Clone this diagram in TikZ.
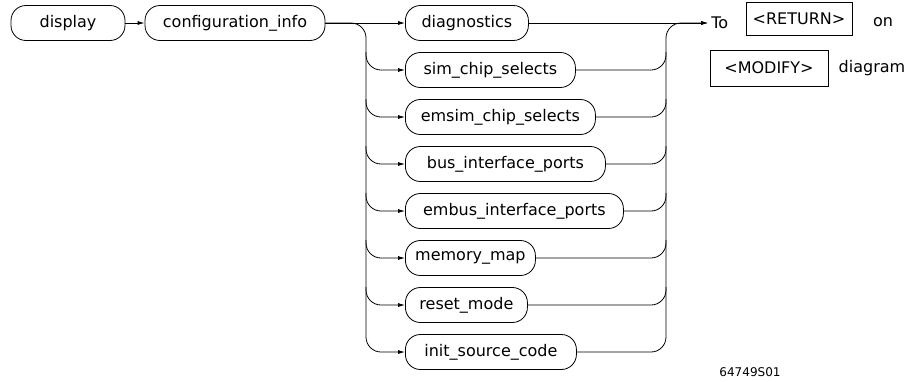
\documentclass[tikz,border=0pt]{standalone}
\usepackage{fontspec}
\setmainfont{DejaVu Sans}
\usepackage{tikz}
\usetikzlibrary{arrows.meta,positioning,calc}

\tikzset{
  kw/.style={draw, rounded corners=15pt, minimum height=35pt, inner sep=0pt},
  keybox/.style={draw, minimum height=33pt, inner sep=0pt},
  flow/.style={line width=0.8pt},
  into/.style={flow, -{Latex[length=7pt,width=4pt]}},
  turn/.style={rounded corners=15pt}
}

\begin{document}
\begin{tikzpicture}[x=1pt,y=-1pt,font=\fontsize{16}{18}\selectfont,line width=0.8pt]
          \useasboundingbox (0,0) rectangle (920,381);
          \node[kw, minimum width=114pt] (display) at (68,23) {display};
          \node[kw, minimum width=180pt] (cfg) at (235,23) {configuration\_info};

          \foreach \n/\t/\w [count=\i] in {diag/diagnostics/123, sim/sim\_chip\_selects/170,
              emsim/emsim\_chip\_selects/190, bus/bus\_interface\_ports/200,
              embus/embus\_interface\_ports/218, mem/memory\_map/130,
              reset/reset\_mode/122, init/init\_source\_code/171}
            \node[kw, anchor=west, minimum width=\w pt] (\n) at (405,{23+47*(\i-1)}) {\t};

          \coordinate (lx) at (366,0);
          \coordinate (rx) at (666,0);

          \node[anchor=west, inner sep=3pt] (to) at (708,23) {To};
          \node[keybox, minimum width=106pt] (ret) at (799,19) {<RETURN>};
          \node (on) at (883,22) {on};
          \node[keybox, minimum width=118pt, minimum height=36pt] (mod) at (769,68) {<MODIFY>};
          \node[anchor=west] (dgm) at (835,68) {diagram};
          \node[font=\fontsize{12}{14}\selectfont] (fig) at (750,372) {64749S01};

          \draw[into] (display) -- (cfg);
          \draw[into] (cfg.east) -- (diag.west);
          \draw[into, turn] (cfg.east) -| (lx |- init) -- (init.west);
          \foreach \n in {sim,emsim,bus,embus,mem,reset}
            \draw[into, turn] ($(lx |- \n)+(0,-18)$) |- (\n.west);

          \draw[into] (diag.east) -- (to.west);
          \draw[into, turn] (init.east) -| (rx |- diag) -- (to.west);
          \foreach \n in {sim,emsim,bus,embus,mem,reset}
            \draw[flow, turn] (\n.east) -| ($(rx |- \n)+(0,-18)$);
        \end{tikzpicture}
\end{document}
